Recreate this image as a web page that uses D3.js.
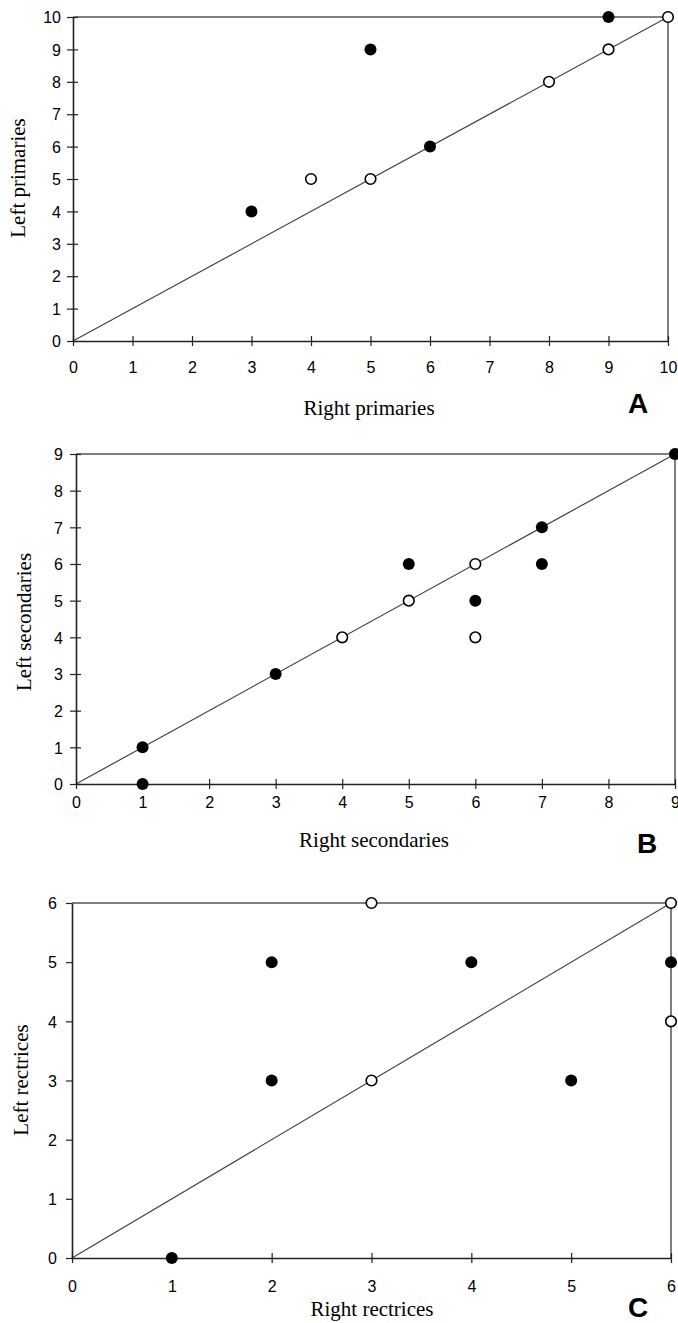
<!DOCTYPE html>
<html><head><meta charset="utf-8">
<script src="https://cdn.jsdelivr.net/npm/d3@7"></script>
<style>body{margin:0;background:#fff}svg{display:block}</style>
</head><body>
<svg id="c" width="678" height="1323"></svg>
<script>
// Panel A: primaries
const aTicks = [0,1,2,3,4,5,6,7,8,9,10];
const aFilled = [[3,4],[5,9],[6,6],[9,10]];
const aOpen = [[4,5],[5,5],[8,8],[9,9],[10,10]];
// Panel B: secondaries
const bTicks = [0,1,2,3,4,5,6,7,8,9];
const bFilled = [[1,1],[1,0],[3,3],[5,6],[6,5],[7,7],[7,6],[9,9]];
const bOpen = [[4,4],[5,5],[6,6],[6,4]];
// Panel C: rectrices
const cTicks = [0,1,2,3,4,5,6];
const cFilled = [[1,0],[2,5],[2,3],[4,5],[5,3],[6,5]];
const cOpen = [[3,6],[6,6],[3,3],[6,4]];

const panels = [
  {ticks:aTicks, filled:aFilled, open:aOpen, xl:73, xr:668, yb:341, yt:17,
   xTitle:"Right primaries", yTitle:"Left primaries", letter:"A",
   xtx:369, xty:415, ytx:25, yty:178, lx:638, ly:413, tickLab:373, ytr:61, yTickOut:false},
  {ticks:bTicks, filled:bFilled, open:bOpen, xl:76, xr:675, yb:784, yt:454,
   xTitle:"Right secondaries", yTitle:"Left secondaries", letter:"B",
   xtx:374, xty:847, ytx:31, yty:622, lx:647, ly:853, tickLab:808, ytr:63, yTickOut:false},
  {ticks:cTicks, filled:cFilled, open:cOpen, xl:72, xr:671, yb:1258, yt:903,
   xTitle:"Right rectrices", yTitle:"Left rectrices", letter:"C",
   xtx:372, xty:1316, ytx:28, yty:1080, lx:638, ly:1317, tickLab:1292, ytr:57, yTickOut:true}
];

const svg = d3.select("#c");

panels.forEach(p => {
  const max = p.ticks[p.ticks.length-1];
  const x = d3.scaleLinear().domain([0,max]).range([p.xl,p.xr]);
  const y = d3.scaleLinear().domain([0,max]).range([p.yb,p.yt]);
  const g = svg.append("g");

  // diagonal 1:1 line
  g.append("line").attr("x1",x(0)).attr("y1",y(0)).attr("x2",x(max)).attr("y2",y(max))
    .attr("stroke","#444").attr("stroke-width",1.2);
  // top and right frame
  g.append("path").attr("d",`M${x(0)},${y(max)}H${x(max)}V${y(0)}`)
    .attr("fill","none").attr("stroke","#555").attr("stroke-width",1.5);

  // x axis
  const xa = g.append("g").attr("transform",`translate(0,${p.yb})`)
    .call(d3.axisBottom(x).tickValues(p.ticks).tickFormat(d3.format("d")).tickSizeOuter(0));
  xa.select(".domain").attr("stroke","#222").attr("stroke-width",1.6);
  xa.selectAll(".tick line").attr("y1",-5).attr("y2",5).attr("stroke","#222").attr("stroke-width",1.2);
  xa.selectAll(".tick text").attr("y",p.tickLab-p.yb).attr("dy",null)
    .attr("font-family","Liberation Sans, Arial, sans-serif").attr("font-size",16).attr("fill","#000");

  // y axis
  const ya = g.append("g").attr("transform",`translate(${p.xl},0)`)
    .call(d3.axisLeft(y).tickValues(p.ticks).tickFormat(d3.format("d")).tickSizeOuter(0));
  ya.select(".domain").attr("stroke","#222").attr("stroke-width",1.6);
  ya.selectAll(".tick line").attr("x1",-6).attr("x2",p.yTickOut?0:5).attr("stroke","#222").attr("stroke-width",1.2);
  ya.selectAll(".tick text").attr("x",p.ytr-p.xl).attr("dy","0.36em")
    .attr("font-family","Liberation Sans, Arial, sans-serif").attr("font-size",16).attr("fill","#000");

  // titles
  g.append("text").attr("x",p.xtx).attr("y",p.xty).attr("text-anchor","middle")
    .attr("font-family","Liberation Serif, Times New Roman, serif").attr("font-size",21).text(p.xTitle);
  g.append("text").attr("transform",`translate(${p.ytx},${p.yty}) rotate(-90)`).attr("text-anchor","middle")
    .attr("font-family","Liberation Serif, Times New Roman, serif").attr("font-size",21).text(p.yTitle);
  g.append("text").attr("x",p.lx).attr("y",p.ly).attr("text-anchor","middle")
    .attr("font-family","Liberation Sans, Arial, sans-serif").attr("font-weight","bold").attr("font-size",28).text(p.letter);

  // points
  g.selectAll(".op").data(p.open).join("circle")
    .attr("cx",d=>x(d[0])).attr("cy",d=>y(d[1])).attr("r",5.3)
    .attr("fill","#fff").attr("stroke","#000").attr("stroke-width",1.6);
  g.selectAll(".fp").data(p.filled).join("circle")
    .attr("cx",d=>x(d[0])).attr("cy",d=>y(d[1])).attr("r",6)
    .attr("fill","#000");
});
</script>
</body></html>
